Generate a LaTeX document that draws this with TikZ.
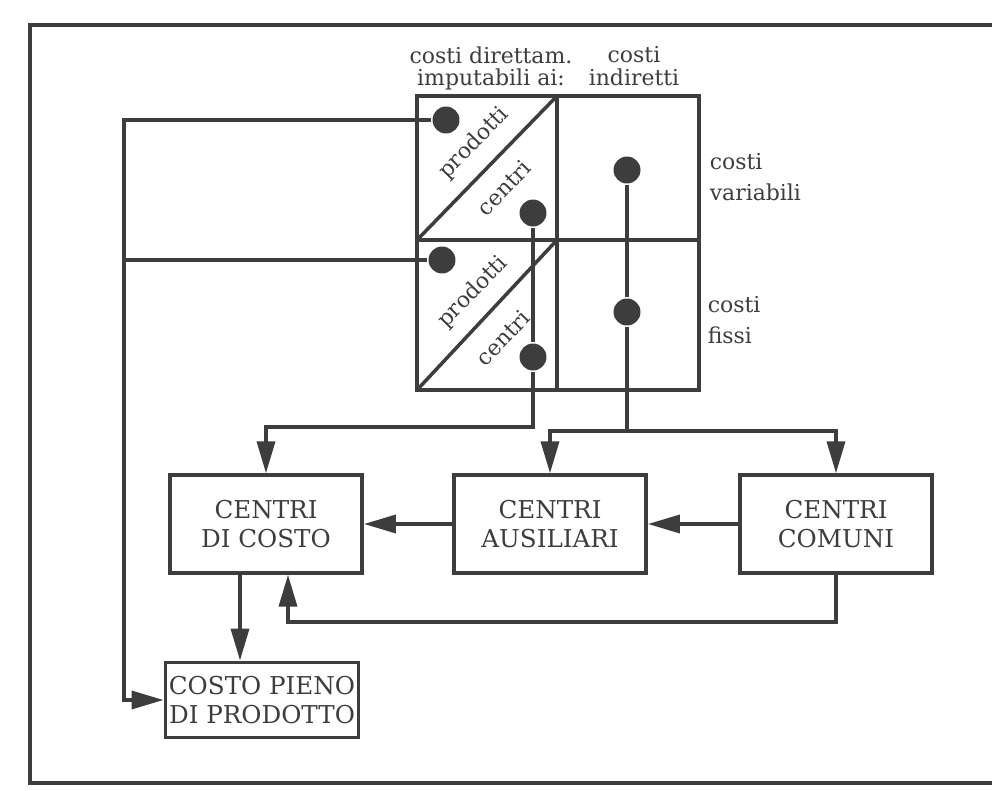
\documentclass[tikz,border=0pt]{standalone}
\usepackage{fontspec}
\setmainfont{DejaVu Serif}
\usetikzlibrary{arrows.meta}
\definecolor{ink}{gray}{0.24}

\begin{document}
\begin{tikzpicture}[x=0.02cm,y=-0.02cm,color=ink,line width=2pt,
  box/.style={draw,line width=2.2pt,minimum width=3.84cm,minimum height=1.95cm,
    inner sep=0pt,align=center,font=\fontsize{14}{17}\selectfont},
  dot/.style={circle,fill=ink,minimum size=0.54cm,inner sep=0pt},
  lbl/.style={font=\fontsize{12.5}{17.5}\selectfont,inner sep=0pt,align=left},
  head/.style={font=\fontsize{12.5}{12.8}\selectfont,inner sep=0pt,align=center,anchor=north},
  diag/.style={font=\fontsize{12.5}{15}\selectfont,rotate=45.8,inner sep=0pt},
  arr/.style={-{Triangle[length=0.64cm,width=0.36cm]}}]
\useasboundingbox (0,0) rectangle (992,791);
\draw (992,25) -- (30,25) -- (30,783) -- (992,783);

\draw (417,96) rectangle (699,390);
\draw (557,96) -- (557,390);
\draw (417,240) -- (699,240);
\foreach \y/\t in {240/96,390/240}
  \draw (417,\y) -- (557,\t);

\node[head] (dir) at (491,45) {costi direttam.\\imputabili ai:};
\node[head] (ind) at (634,45) {costi\\indiretti};
\node[lbl,anchor=north west] (var) at (708,152) {costi\\variabili};
\node[lbl,anchor=north west] (fis) at (706,295) {costi\\fissi};

\node[diag] (tpu) at (474,143) {prodotti};
\node[diag] (tcu) at (504,188) {centri};
\node[diag] (tpl) at (473,292) {prodotti};
\node[diag] (tcl) at (503,338) {centri};

\node[dot] (pu) at (446,120) {};
\node[dot] (pl) at (442,260) {};
\node[dot] (cu) at (533,213) {};
\node[dot] (cl) at (533,357) {};
\node[dot] (iu) at (627,170) {};
\node[dot] (il) at (627,312) {};

\node[box] (dicosto) at (266,524) {CENTRI\\DI COSTO};
\node[box] (ausiliari) at (550,524) {CENTRI\\AUSILIARI};
\node[box] (comuni) at (836,524) {CENTRI\\COMUNI};
\node[box,minimum width=3.86cm,minimum height=1.5cm] (pieno) at (262,700) {COSTO PIENO\\DI PRODOTTO};

\coordinate (lt) at (124,120);
\coordinate (lb) at (124,700);
\coordinate (cb) at (533,427);
\coordinate (ib) at (627,431);
\coordinate (fb) at (288,622);

\draw[arr] (pu) -- (lt) -- (lb) -- (pieno);
\draw (pl) -- (pl -| lt);
\draw (cu) -- (cl);
\draw[arr] (cl) -- (cb) -| (dicosto);
\draw (iu) -- (il) -- (ib);
\draw[arr] (ib) -| (ausiliari);
\draw[arr] (ib) -| (comuni);
\draw[arr] (ausiliari) -- (dicosto);
\draw[arr] (comuni) -- (ausiliari);
\draw[arr] (comuni.south) |- (fb) -- (fb |- dicosto.south);
\draw[arr] ([xshift=-0.52cm]dicosto.south) -- ([xshift=-0.52cm]dicosto.south |- pieno.north);
\end{tikzpicture}
\end{document}
